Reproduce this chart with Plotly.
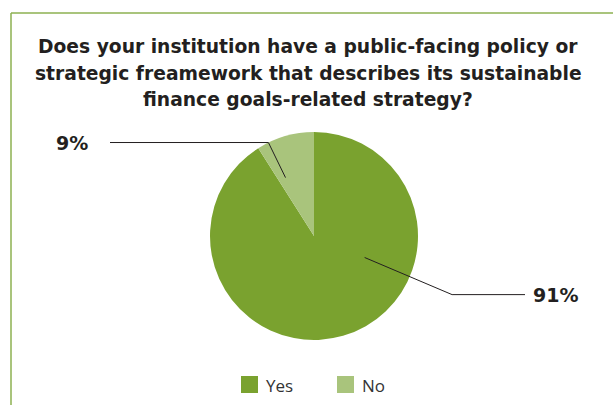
import math
import plotly.graph_objects as go

# Survey answers
categories = ["Yes", "No"]
shares = [91, 9]
slice_colors = ["#7AA22F", "#A9C47C"]
title_lines = [
    "Does your institution have a public-facing policy or",
    "strategic freamework that describes its sustainable",
    "finance goals-related strategy?",
]

W, H = 613, 405
CX, CY, R = 314, 236, 104          # pie centre and radius in pixels
TEXT = "#231F20"
FRAME = "#8DB050"


def px(x):
    return x / W


def py(y):
    return 1 - y / H


fig = go.Figure(
    go.Pie(
        labels=categories,
        values=shares,
        sort=False,
        direction="clockwise",
        rotation=0,
        marker=dict(colors=slice_colors, line=dict(width=0)),
        textinfo="none",
        hoverinfo="label+percent",
        showlegend=False,
        domain=dict(x=[px(CX - R), px(CX + R)], y=[py(CY + R), py(CY - R)]),
    )
)

shapes = []
annotations = []

# Frame around the chart (top and left edges)
shapes.append(dict(type="line", xref="paper", yref="paper",
                   x0=px(11), x1=px(W + 5), y0=py(13), y1=py(13),
                   line=dict(color=FRAME, width=1.5)))
shapes.append(dict(type="line", xref="paper", yref="paper",
                   x0=px(11), x1=px(11), y0=py(13), y1=py(H + 5),
                   line=dict(color=FRAME, width=1.5)))

# Percentage callouts with leader lines
total = sum(shares)
callouts = {
    # category: (angle from 12 o'clock, + clockwise), inner r, elbow r, end x, label x
    "No": (-26, 65, 104, 110, 72),
    "Yes": (113, 55, 150, 525, 555),
}
for cat, val in zip(categories, shares):
    ang, r_in, r_el, x_end, x_lab = callouts[cat]
    a = math.radians(ang)
    x0, y0 = CX + r_in * math.sin(a), CY - r_in * math.cos(a)
    x1, y1 = CX + r_el * math.sin(a), CY - r_el * math.cos(a)
    shapes.append(dict(type="path", xref="paper", yref="paper",
                       path=f"M {px(x0)},{py(y0)} L {px(x1)},{py(y1)} L {px(x_end)},{py(y1)}",
                       line=dict(color=TEXT, width=1)))
    annotations.append(dict(xref="paper", yref="paper", x=px(x_lab), y=py(y1),
                            text=f"<b>{round(100 * val / total)}%</b>", showarrow=False,
                            xanchor="center", yanchor="middle",
                            font=dict(family="DejaVu Sans", size=19, color=TEXT)))

# Title, one annotation per line for even spacing
for i, line in enumerate(title_lines):
    annotations.append(dict(xref="paper", yref="paper", x=px(308), y=py(47 + 26 * i),
                            text=f"<b>{line}</b>",
                            showarrow=False, xanchor="center", yanchor="middle",
                            font=dict(family="DejaVu Sans", size=18.7, color=TEXT)))

# Legend
leg_x = [241, 337]
for cat, col, lx in zip(categories, slice_colors, leg_x):
    shapes.append(dict(type="rect", xref="paper", yref="paper",
                       x0=px(lx), x1=px(lx + 17), y0=py(393), y1=py(376),
                       fillcolor=col, line=dict(width=0)))
    annotations.append(dict(xref="paper", yref="paper", x=px(lx + 23), y=py(385),
                            text=cat, showarrow=False, xanchor="left", yanchor="middle",
                            font=dict(family="Open Sans", size=17, color="#333333")))

fig.update_layout(
    width=W, height=H,
    margin=dict(l=0, r=0, t=0, b=0),
    paper_bgcolor="white",
    plot_bgcolor="white",
    shapes=shapes,
    annotations=annotations,
)

fig.write_html("out.html")
